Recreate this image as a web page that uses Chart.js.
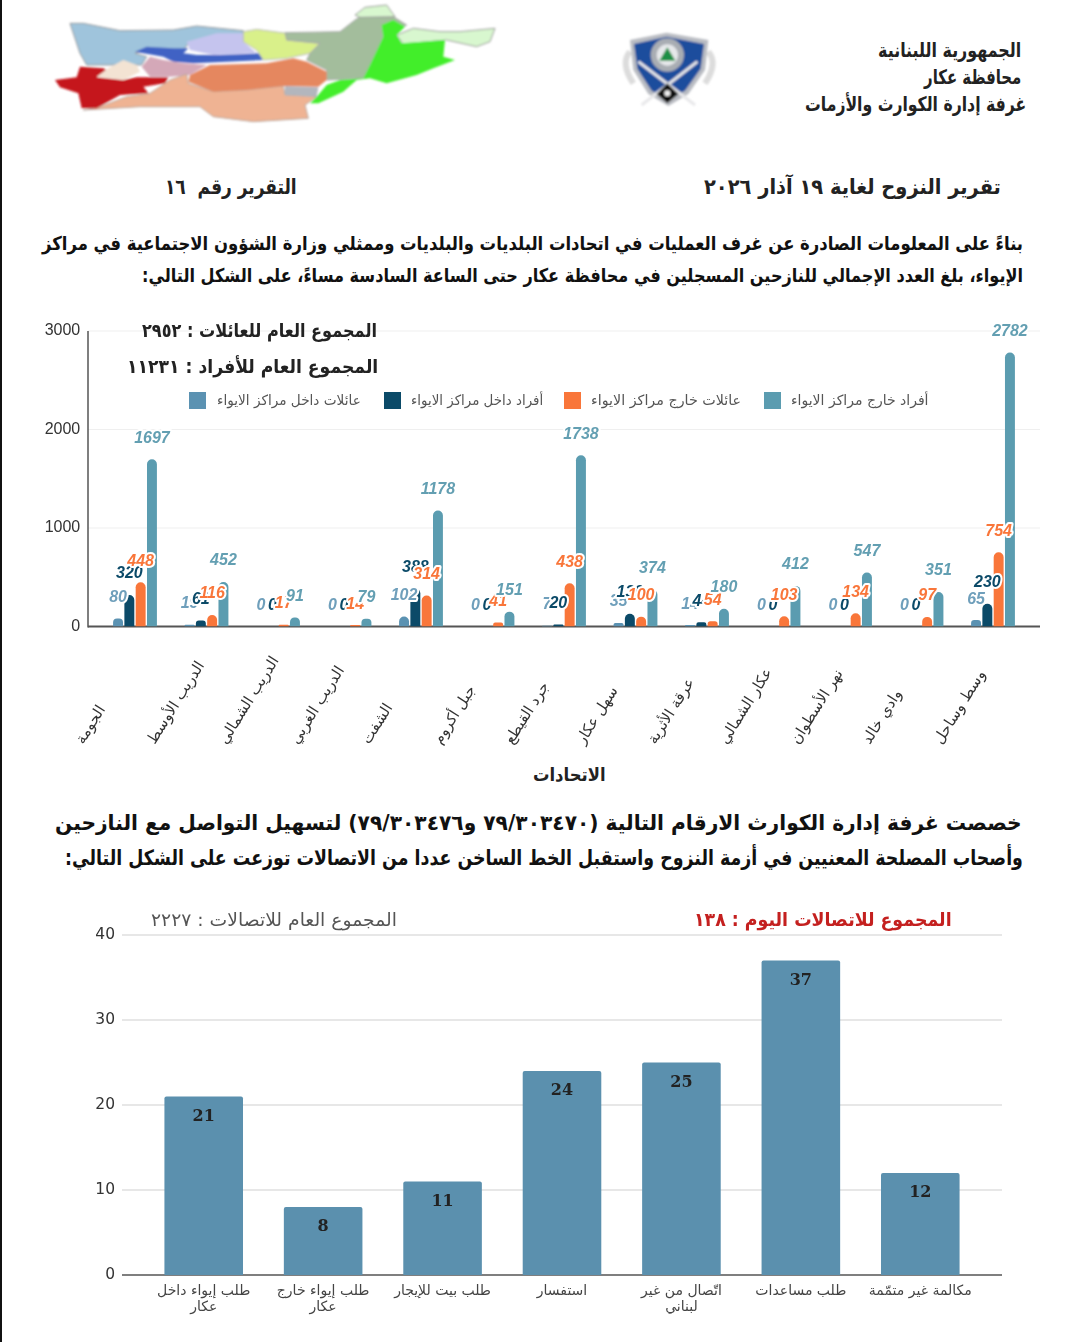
<!DOCTYPE html>
<html lang="ar">
<head>
<meta charset="utf-8">
<title>تقرير النزوح</title>
<script src="https://cdn.jsdelivr.net/npm/chart.js@4"></script>
<style>
  html, body { margin: 0; padding: 0; background: #fff; }
  #page { position: relative; width: 1065px; height: 1342px; overflow: hidden; background: #fff; font-family: "DejaVu Sans", sans-serif; }
  #edge { position: absolute; left: 0; top: 0; width: 2px; height: 1342px; background: #111; }
  canvas { position: absolute; left: 0; }
  .line { position: absolute; white-space: pre; direction: rtl; z-index: 3; }
  .swatch { position: absolute; width: 17px; height: 17px; z-index: 3; }
  svg { position: absolute; }
</style>
</head>
<body>
<div id="page">
  <div id="edge"></div>

  <!-- district map -->
  <svg style="left:40px;top:0" width="470" height="130" viewBox="0 0 1410 390">
    <defs><filter id="soft"><feGaussianBlur stdDeviation="2.5"/></filter></defs>
    <g filter="url(#soft)" stroke="#9a9a9a" stroke-width="3">
      <polygon fill="#9fc4dc" points="90,70 130,70 240,92 400,90 470,78 610,92 610,125 530,105 450,125 430,150 300,155 285,160 320,170 305,195 140,195 120,160"/>
      <polygon fill="#c5c4ee" stroke="none" points="440,125 530,100 610,100 610,125 650,160 520,165 450,150"/>
      <polygon fill="#3f62c4" stroke="none" points="285,155 320,140 400,145 445,145 430,160 470,165 540,165 660,160 670,180 560,185 460,190 400,185 370,170"/>
      <polygon fill="#d9f08a" stroke="#bbb" points="610,95 650,88 740,100 740,120 840,130 810,160 740,175 670,180 650,150 610,125"/>
      <polygon fill="#a3bd9c" stroke="#aaa" points="735,98 900,95 945,60 960,50 1060,50 1100,75 1040,110 1000,185 970,235 860,240 860,210 800,180 810,160 840,130 740,120"/>
      <polygon fill="#d8f7cf" points="945,45 975,22 1040,15 1065,50 960,52"/>
      <polygon fill="#d8f7cf" points="1070,105 1120,85 1200,95 1260,95 1365,85 1350,125 1310,140 1220,120 1090,132"/>
      <polygon fill="#d4a8b8" stroke="none" points="330,170 370,180 430,190 500,195 450,225 390,230 330,230 305,200"/>
      <polygon fill="#efb393" stroke="#b9a9a0" points="180,320 260,290 330,280 390,240 440,222 445,250 520,275 620,270 730,258 735,285 830,290 795,315 805,355 640,365 520,350 480,320 300,320 130,330"/>
      <polygon fill="#e5875f" stroke="none" points="450,225 510,195 680,190 760,175 800,185 860,215 860,240 835,260 730,258 620,270 520,275 445,245"/>
      <polygon fill="#b3b6bd" stroke="none" points="735,258 835,262 830,290 735,285"/>
      <polygon fill="#42ee2c" stroke="none" points="1025,75 1060,60 1095,80 1070,105 1085,130 1215,120 1210,170 1245,180 1180,205 1130,225 1040,250 990,235 950,240 910,275 835,310 810,310 830,290 860,255 900,240 970,235 990,195 1030,110"/>
      <polygon fill="#c5131b" stroke="none" points="120,200 190,205 200,210 170,232 250,240 290,232 385,232 375,250 310,260 325,280 240,285 170,325 125,325 115,280 60,262 45,240 110,232"/>
      <polygon fill="#f3e3d3" stroke="none" points="170,230 205,205 250,180 290,195 300,215 250,240 210,235"/>
    </g>
  </svg>

  <!-- crest -->
  <svg style="left:610px;top:20px" width="120" height="100" viewBox="0 0 360 300">
    <defs><filter id="soft2"><feGaussianBlur stdDeviation="2.5"/></filter></defs>
    <g filter="url(#soft2)">
      <path d="M60 95 Q30 130 70 190 M295 95 Q325 130 285 190" stroke="#dcdcdc" stroke-width="18" fill="none"/>
      <polygon fill="#b9bcc2" points="60,60 170,38 295,60 285,150 235,222 175,258 115,222 70,150"/>
      <polygon fill="#1d4d9d" points="72,72 170,50 282,72 272,146 225,212 175,238 125,212 82,146"/>
      <circle cx="172" cy="105" r="50" fill="#a9adb3"/>
      <circle cx="172" cy="105" r="32" fill="#e6e8ea"/>
      <polygon fill="#1f8f45" points="172,82 196,122 148,122"/>
      <path d="M85 125 L255 255 M262 125 L95 255" stroke="#e8e8ea" stroke-width="9"/>
      <polygon fill="#111" points="172,190 205,222 172,250 140,222"/>
      <circle cx="172" cy="220" r="9" fill="#eee"/>
    </g>
  </svg>

  <canvas id="unionChart"></canvas>
  <canvas id="callChart"></canvas>
</div>

<script>
// union chart data
const unionNames = ['الجومة', 'الدريب الأوسط', 'الدريب الشمالي', 'الدريب الغربي', 'الشفت', 'جبل أكروم', 'جرد القيطع', 'سهل عكار', 'عرقة الأثرية', 'عكار الشمالي', 'نهر الأسطوان', 'وادي خالد', 'وسط وساحل'];
const familiesInside = [80, 19, 0, 0, 102, 0, 7, 35, 14, 0, 0, 0, 65];
const peopleInside = [320, 61, 0, 0, 388, 0, 20, 130, 44, 0, 0, 0, 230];
const familiesOutside = [448, 116, 17, 14, 314, 41, 438, 100, 54, 103, 134, 97, 754];
const peopleOutside = [1697, 452, 91, 79, 1178, 151, 1738, 374, 180, 412, 547, 351, 2782];
const seriesNames = ['عائلات داخل مراكز الايواء', 'أفراد داخل مراكز الايواء', 'عائلات خارج مراكز الايواء', 'أفراد خارج مراكز الايواء'];
const seriesColors = ['#5b92b2', '#0b4a68', '#f9763a', '#5b9cb0'];
const labelColors = ['#6f9fbb', '#0b4a68', '#f9763a', '#639fb2'];
const unionTicks = [0, 1000, 2000, 3000];

// calls chart data
const callLabels = [['طلب إيواء داخل', 'عكار'], ['طلب إيواء خارج', 'عكار'], 'طلب بيت للإيجار', 'استفسار', ['اتّصال من غير', 'لبناني'], 'طلب مساعدات', 'مكالمة غير متمّمة'];
const callCounts = [21, 8, 11, 24, 25, 37, 12];
const callTicks = [0, 10, 20, 30, 40];

// text lines: [text, left, right, centre y, font px, colour, weight]
const textLines = [
  ['الجمهورية اللبنانية', 878, 1021, 50, 20, '#222', 'bold'],
  ['محافظة عكار', 924, 1021, 77, 20, '#222', 'bold'],
  ['غرفة إدارة الكوارث والأزمات', 805, 1026, 104, 20, '#222', 'bold'],
  ['تقرير النزوح لغاية ١٩ آذار ٢٠٢٦', 704, 1001, 187, 21, '#222', 'bold'],
  ['التقرير رقم  ١٦', 165, 297, 187, 21, '#222', 'bold'],
  ['بناءً على المعلومات الصادرة عن غرف العمليات في اتحادات البلديات والبلديات وممثلي وزارة الشؤون الاجتماعية في مراكز', 42, 1023, 243, 19, '#111', 'bold'],
  ['الإيواء، بلغ العدد الإجمالي للنازحين المسجلين في محافظة عكار حتى الساعة السادسة مساءً، على الشكل التالي:', 142, 1023, 275, 19, '#111', 'bold'],
  ['المجموع العام للعائلات : ٢٩٥٢', 142, 377, 330, 19, '#222', 'bold'],
  ['المجموع العام للأفراد : ١١٢٣١', 127, 378, 366, 19, '#222', 'bold'],
  ['الاتحادات', 533, 606, 774, 18, '#222', 'bold'],
  ['خصصت غرفة إدارة الكوارث الارقام التالية (٧٩/٣٠٣٤٧٠ و٧٩/٣٠٣٤٧٦) لتسهيل التواصل مع النازحين', 55, 1022, 823, 21, '#111', 'bold'],
  ['وأصحاب المصلحة المعنيين في أزمة النزوح واستقبل الخط الساخن عددا من الاتصالات توزعت على الشكل التالي:', 65, 1023, 858, 21, '#111', 'bold'],
  ['المجموع العام للاتصالات : ٢٢٢٧', 151, 397, 919, 18, '#555', 'normal'],
  ['المجموع للاتصالات اليوم : ١٣٨', 694, 952, 919, 19, '#c4201f', 'bold'],
  [seriesNames[0], 217, 361, 400, 14, '#555', 'normal'],
  [seriesNames[1], 411, 543, 400, 14, '#555', 'normal'],
  [seriesNames[2], 591, 741, 400, 14, '#555', 'normal'],
  [seriesNames[3], 791, 928, 400, 14, '#555', 'normal'],
];
const swatchLefts = [189, 384, 564, 764];

const page = document.getElementById('page');

// squeeze every line to the width it has in the scan
textLines.forEach(([text, left, right, y, size, color, weight]) => {
  const el = document.createElement('div');
  el.className = 'line';
  el.textContent = text;
  el.style.fontSize = size + 'px';
  el.style.color = color;
  el.style.fontWeight = weight;
  page.appendChild(el);
  const w = el.offsetWidth;
  el.style.left = (right - w) + 'px';
  el.style.top = y + 'px';
  el.style.transformOrigin = 'right center';
  el.style.transform = `translateY(-50%) scaleX(${(right - left) / w})`;
});

swatchLefts.forEach((x, i) => {
  const s = document.createElement('div');
  s.className = 'swatch';
  s.style.left = x + 'px';
  s.style.top = '392px';
  s.style.background = seriesColors[i];
  page.appendChild(s);
});

// gridlines and axis run wider than the category band
const axisLines = {
  id: 'axisLines',
  beforeDatasetsDraw(chart, args, opts) {
    const { ctx, scales: { y } } = chart;
    ctx.save();
    y.ticks.forEach((t) => {
      const py = y.getPixelForValue(t.value);
      ctx.beginPath();
      ctx.strokeStyle = t.value === 0 ? opts.baseColor : opts.gridColor;
      ctx.lineWidth = t.value === 0 ? opts.baseWidth : 1;
      ctx.moveTo(opts.left, py);
      ctx.lineTo(opts.right, py);
      ctx.stroke();
    });
    if (opts.axisWidth) {
      ctx.beginPath();
      ctx.strokeStyle = opts.baseColor;
      ctx.lineWidth = opts.axisWidth;
      ctx.moveTo(opts.left, y.getPixelForValue(3000));
      ctx.lineTo(opts.left, y.getPixelForValue(0) + 1);
      ctx.stroke();
    }
    ctx.restore();
  },
};

// value labels with a white halo, slanted category names
const unionLabels = {
  id: 'unionLabels',
  afterDatasetsDraw(chart) {
    const { ctx, scales: { x } } = chart;
    ctx.save();
    ctx.font = 'italic bold 16px "Liberation Sans", Arial, sans-serif';
    ctx.textAlign = 'center';
    ctx.textBaseline = 'middle';
    ctx.lineJoin = 'round';
    chart.data.datasets.forEach((ds, i) => {
      chart.getDatasetMeta(i).data.forEach((bar, j) => {
        const ly = bar.y - 21;
        ctx.strokeStyle = '#fff';
        ctx.lineWidth = 4;
        ctx.strokeText(ds.data[j], bar.x, ly);
        ctx.fillStyle = labelColors[i];
        ctx.fillText(ds.data[j], bar.x, ly);
      });
    });
    ctx.restore();

    ctx.save();
    ctx.font = '15px "DejaVu Sans", sans-serif';
    ctx.fillStyle = '#333';
    ctx.direction = 'rtl';
    ctx.textAlign = 'left';
    ctx.textBaseline = 'middle';
    unionNames.forEach((name, i) => {
      ctx.save();
      ctx.translate(x.getPixelForTick(i) - 55, 443);
      ctx.rotate(-58 * Math.PI / 180);
      ctx.fillText(name, 0, 0);
      ctx.restore();
    });
    ctx.restore();
  },
};

const callLabelsInside = {
  id: 'callLabelsInside',
  afterDatasetsDraw(chart) {
    const { ctx } = chart;
    ctx.save();
    ctx.font = 'bold 16px "DejaVu Serif", serif';
    ctx.fillStyle = '#222';
    ctx.textAlign = 'center';
    ctx.textBaseline = 'middle';
    chart.getDatasetMeta(0).data.forEach((bar, i) => {
      ctx.fillText(callCounts[i], bar.x, bar.y + 20);
    });
    ctx.restore();
  },
};

function placeCanvas(id, top, height) {
  const c = document.getElementById(id);
  c.style.top = top + 'px';
  c.style.width = '1065px';
  c.style.height = height + 'px';
  c.width = 1065;
  c.height = height;
  return c;
}

new Chart(placeCanvas('unionChart', 300, 460), {
  type: 'bar',
  data: {
    labels: unionNames,
    datasets: [familiesInside, peopleInside, familiesOutside, peopleOutside].map((vals, i) => ({
      label: seriesNames[i],
      data: vals,
      backgroundColor: seriesColors[i],
      borderRadius: { topLeft: 5, topRight: 5 },
      borderSkipped: 'bottom',
      categoryPercentage: 0.632,
      barPercentage: 0.88,
    })),
  },
  options: {
    responsive: false,
    animation: false,
    devicePixelRatio: 1,
    layout: { padding: { left: 0, right: 36.25, top: 31, bottom: 133.5 } },
    plugins: {
      legend: { display: false },
      tooltip: { enabled: false },
      axisLines: { left: 88, right: 1040, gridColor: '#efefef', baseColor: '#555', baseWidth: 2, axisWidth: 1.5 },
    },
    scales: {
      x: {
        grid: { display: false },
        border: { display: false },
        ticks: { display: false },
        afterFit: (s) => { s.height = 0; },
      },
      y: {
        min: 0,
        max: 3000,
        grid: { display: false },
        border: { display: false },
        afterBuildTicks: (s) => { s.ticks = unionTicks.map((v) => ({ value: v })); },
        afterFit: (s) => { s.width = 99.25; },
        ticks: {
          padding: 11,
          color: '#333',
          font: { family: '"Liberation Sans", Arial, sans-serif', size: 16 },
          callback: (v) => String(v),
        },
      },
    },
  },
  plugins: [axisLines, unionLabels],
});

new Chart(placeCanvas('callChart', 900, 442), {
  type: 'bar',
  data: {
    labels: callLabels,
    datasets: [{
      data: callCounts,
      backgroundColor: '#5b90ae',
      borderRadius: 2,
      borderSkipped: 'bottom',
      categoryPercentage: 0.658,
      barPercentage: 1,
    }],
  },
  options: {
    responsive: false,
    animation: false,
    devicePixelRatio: 1,
    layout: { padding: { left: 0, right: 85, top: 35, bottom: 0 } },
    plugins: {
      legend: { display: false },
      tooltip: { enabled: false },
      axisLines: { left: 122, right: 1002, gridColor: '#cfcfcf', baseColor: '#555', baseWidth: 1.5, axisWidth: 0 },
    },
    scales: {
      x: {
        grid: { display: false },
        border: { display: false },
        afterFit: (s) => { s.height = 67; },
        ticks: {
          autoSkip: false,
          maxRotation: 0,
          minRotation: 0,
          padding: 0,
          color: '#444',
          font: { family: '"DejaVu Sans", sans-serif', size: 14, lineHeight: 1.15 },
        },
      },
      y: {
        min: 0,
        max: 40,
        grid: { display: false },
        border: { display: false },
        afterBuildTicks: (s) => { s.ticks = callTicks.map((v) => ({ value: v })); },
        afterFit: (s) => { s.width = 144; },
        ticks: { padding: 21, color: '#333', font: { family: '"DejaVu Sans", sans-serif', size: 15.5 } },
      },
    },
  },
  plugins: [axisLines, callLabelsInside],
});
</script>
</body>
</html>
